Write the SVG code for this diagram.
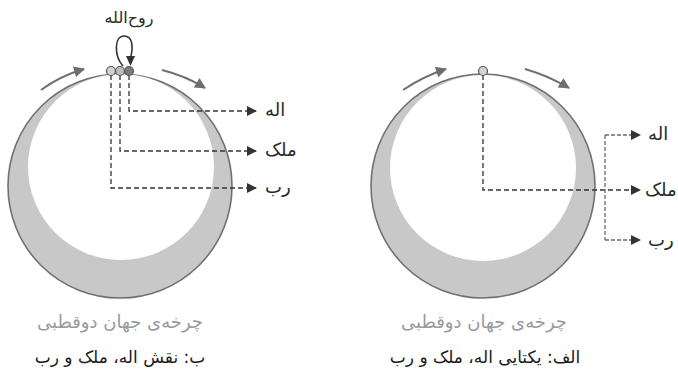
<svg xmlns="http://www.w3.org/2000/svg" width="678" height="372" viewBox="0 0 678 372">
<style>
.outer{fill:#c8c8c8;stroke:#707070;stroke-width:1.6}
.inner{fill:#fff}
.rot{fill:none;stroke:#707070;stroke-width:2}
.dash{fill:none;stroke:#333;stroke-width:1.3;stroke-dasharray:5 3}
.dash2{fill:none;stroke:#6a6a6a;stroke-width:1.3;stroke-dasharray:4 2}
.lbl{font-family:"DejaVu Sans",sans-serif;font-size:18px;fill:#2a2a2a}
.cap{font-family:"DejaVu Sans",sans-serif;font-size:18px;fill:#9a9a9a;text-anchor:middle}
.title{font-family:"DejaVu Sans",sans-serif;font-size:17px;fill:#1a1a1a;text-anchor:middle}
.dot{stroke:#555;stroke-width:1.2}
</style>
<defs>
<marker id="ag" markerUnits="userSpaceOnUse" viewBox="0 0 10 10" refX="9" refY="5" markerWidth="12" markerHeight="11" orient="auto"><path d="M0,0 L10,5 L0,10 z" fill="#6e6e6e"/></marker>
<marker id="ab" markerUnits="userSpaceOnUse" viewBox="0 0 10 10" refX="9" refY="5" markerWidth="11" markerHeight="10" orient="auto"><path d="M0,0 L10,5 L0,10 z" fill="#333"/></marker>
</defs>
<g id="left-world">
<circle class="outer" cx="120" cy="186" r="112"/>
<circle class="inner" cx="121" cy="167" r="93"/>
</g>
<g id="right-world">
<circle class="outer" cx="483" cy="186" r="112"/>
<circle class="inner" cx="483" cy="168" r="93"/>
</g>
<g id="connectors">
<path class="rot" d="M 41 90 Q 60 76 84 69" marker-end="url(#ag)"/>
<path class="rot" d="M 162 70 Q 186 76 205 88" marker-end="url(#ag)"/>
<path class="rot" d="M 403 90 Q 424 76 446 69" marker-end="url(#ag)"/>
<path class="rot" d="M 525 69 Q 549 76 569 88" marker-end="url(#ag)"/>
<path class="dash" d="M 129 75 L 129 111 L 256 111" marker-end="url(#ab)"/>
<path class="dash" d="M 120 75 L 120 151 L 256 151" marker-end="url(#ab)"/>
<path class="dash" d="M 111 75 L 111 188 L 256 188" marker-end="url(#ab)"/>
<path class="dash" d="M 483 75 L 483 190 L 640 190" marker-end="url(#ab)"/>
<path class="dash2" d="M 605 135 L 605 240"/>
<path class="dash2" d="M 605 135 L 640 135" marker-end="url(#ab)"/>
<path class="dash2" d="M 605 240 L 640 240" marker-end="url(#ab)"/>
<path d="M 123 66 C 114 56 114 36 124 36 C 133 36 133 47 131 56" fill="none" stroke="#333" stroke-width="1.6"/>
<path d="M 126 56 L 135 56 L 130.5 66 z" fill="#333"/>
</g>
<g id="nodes-left">
<circle class="dot" cx="111" cy="71" r="4.5" fill="#d2d2d2"/>
<circle class="dot" cx="120" cy="71" r="4.5" fill="#bdbdbd"/>
<circle class="dot" cx="129" cy="71" r="4.5" fill="#7a7a7a"/>
<text class="lbl" x="129" y="23" text-anchor="middle" style="font-size:16px">روح&#x200C;الله</text>
<text class="lbl" x="265" y="116">اله</text>
<text class="lbl" x="265" y="156">ملک</text>
<text class="lbl" x="265" y="193">رب</text>
<text class="cap" x="120" y="328">چرخه&#x200C;ی جهان دوقطبی</text>
<text class="title" x="120" y="363">ب: نقش اله، ملک و رب</text>
</g>
<g id="nodes-right">
<circle class="dot" cx="483" cy="71" r="4.5" fill="#d2d2d2"/>
<text class="lbl" x="648" y="140">اله</text>
<text class="lbl" x="645" y="196">ملک</text>
<text class="lbl" x="648" y="246">رب</text>
<text class="cap" x="484" y="328">چرخه&#x200C;ی جهان دوقطبی</text>
<text class="title" x="485" y="363">الف: یکتایی اله، ملک و رب</text>
</g>
</svg>
